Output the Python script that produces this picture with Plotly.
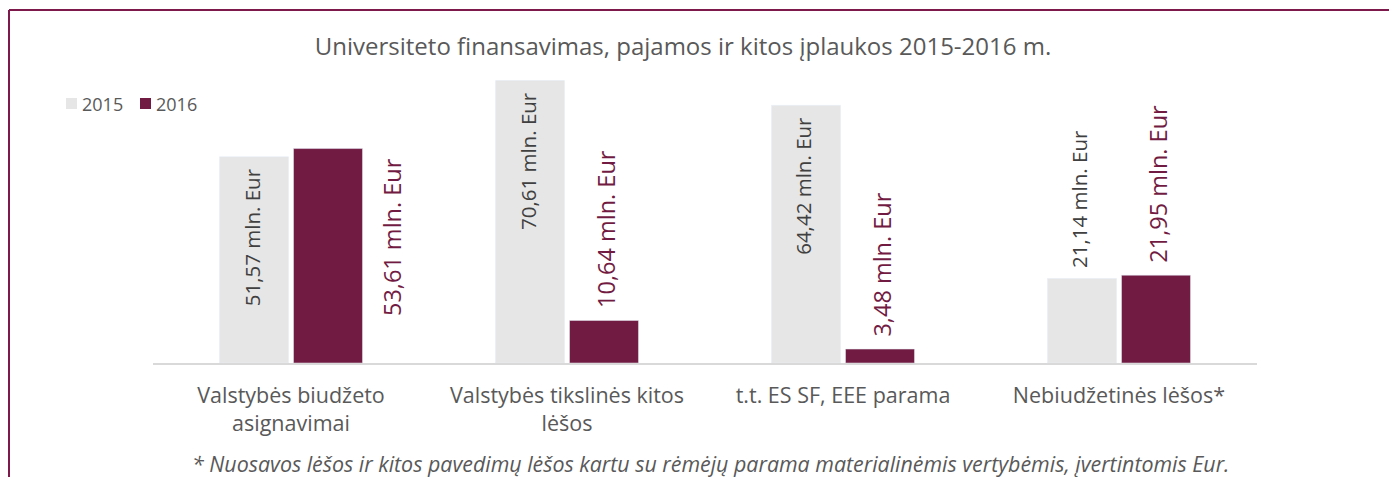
import plotly.graph_objects as go

categories = ["Valstybės biudžeto<br>asignavimai", "Valstybės tikslinės kitos<br>lėšos",
              "t.t. ES SF, EEE parama", "Nebiudžetinės lėšos*"]
series_names = ["2015", "2016"]
values_2015 = [51.57, 70.61, 64.42, 21.14]
values_2016 = [53.61, 10.64, 3.48, 21.95]
labels_2015 = ["51,57 mln. Eur", "70,61 mln. Eur", "64,42 mln. Eur", "21,14 mln. Eur"]
labels_2016 = ["53,61 mln. Eur", "10,64 mln. Eur", "3,48 mln. Eur", "21,95 mln. Eur"]
pos_2015 = ["inside", "inside", "inside", "outside"]
pos_2016 = ["right", "outside", "outside", "outside"]

title = "Universiteto finansavimas, pajamos ir kitos įplaukos 2015-2016 m."
footnote = "* Nuosavos lėšos ir kitos pavedimų lėšos kartu su rėmėjų parama materialinėmis vertybėmis, įvertintomis Eur."

GRAY = "#e6e6e6"
MAROON = "#721b42"
TEXT = "#595959"
FONT = "Open Sans"
colors = [GRAY, MAROON]

# page body has an 8px margin: work in reference pixels, shift by OFF
OFF = 8
W, H = 1397 - OFF, 477 - OFF
PL, PR, PT, PB = 153, 1257, 63, 363          # plot area in reference pixels
L, R, T, B = PL - OFF, W - (PR - OFF), PT - OFF, H - (PB - OFF)
pw, ph = W - L - R, H - T - B

fig = go.Figure()
fig.add_trace(go.Bar(x=categories, y=values_2015, name=series_names[0], marker_color=GRAY,
                     showlegend=False))
fig.add_trace(go.Bar(x=categories, y=values_2016, name=series_names[1], marker_color=MAROON,
                     showlegend=False))

def px_x(p):  # reference px -> paper
    return (p - PL) / pw

def px_y(p):
    return (PB - p) / ph

annotations = []
bar_off = 39.5
for vals, labs, poss, sign, col, fs, out_gap in [
    (values_2015, labels_2015, pos_2015, -1, "#404040", 20.5, 8),
    (values_2016, labels_2016, pos_2016, 1, MAROON, 23.5, 10),
]:
    for c, v, t, p in zip(categories, vals, labs, poss):
        xs = sign * bar_off
        if p == "inside":
            ya, ys = "top", -10
        elif p == "outside":
            ya, ys = "bottom", out_gap
        else:
            ya, ys = "top", -8
            xs += 61
        annotations.append(dict(x=c, y=v, xref="x", yref="y", text=t, showarrow=False,
                                textangle=-90, xanchor="center", yanchor=ya,
                                xshift=xs, yshift=ys,
                                font=dict(family=FONT, size=fs, color=col)))

annotations.append(dict(x=px_x(711), y=px_y(463), xref="paper", yref="paper",
                        text="<i>" + footnote + "</i>", showarrow=False,
                        xanchor="center", yanchor="middle",
                        font=dict(family=FONT, size=21.4, color=TEXT)))

BORDER = "#7d1a4b"
shapes = [
    dict(type="line", xref="paper", yref="paper", x0=px_x(9), x1=px_x(1420),
         y0=px_y(10), y1=px_y(10), line=dict(color=BORDER, width=2)),
    dict(type="line", xref="paper", yref="paper", x0=px_x(9), x1=px_x(9),
         y0=px_y(10), y1=px_y(500), line=dict(color=BORDER, width=2)),
]

# legend (swatch + label)
legend_sw_x = [66, 140]
legend_tx_x = [80, 154]
legend_y = 103.5
for name, col, sx, tx in zip(series_names, colors, legend_sw_x, legend_tx_x):
    shapes.append(dict(type="rect", xref="paper", yref="paper",
                       x0=px_x(sx), x1=px_x(sx + 11), y0=px_y(legend_y - 5.5), y1=px_y(legend_y + 5.5),
                       fillcolor=col, line=dict(width=0)))
    annotations.append(dict(x=px_x(tx), y=px_y(legend_y), xref="paper", yref="paper",
                            text=name, showarrow=False, xanchor="left", yanchor="middle",
                            font=dict(family=FONT, size=18, color=TEXT)))

fig.update_layout(
    width=W, height=H,
    margin=dict(l=L, r=R, t=T, b=B),
    paper_bgcolor="white", plot_bgcolor="white",
    barmode="group", bargap=0.4638, bargroupgap=0.068,
    title=dict(text=title, x=(683 - OFF) / W, xanchor="center", y=1 - (47 - OFF) / H,
               yanchor="middle", font=dict(family=FONT, size=24, color=TEXT)),
    showlegend=False,
    xaxis=dict(showline=True, linecolor="#d9d9d9", linewidth=2, showgrid=False,
               ticks="", ticklabelstandoff=12,
               tickfont=dict(family=FONT, size=21.5, color=TEXT)),
    yaxis=dict(range=[0, 75], visible=False, showgrid=False),
    annotations=annotations,
    shapes=shapes,
    font=dict(family=FONT),
)

fig.write_html("out.html")
